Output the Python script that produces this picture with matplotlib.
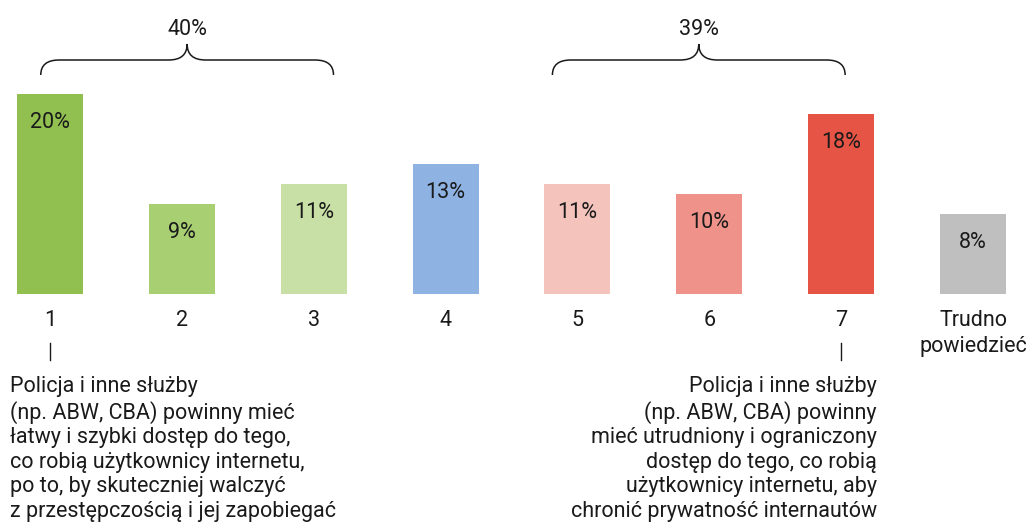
import matplotlib.pyplot as plt
from matplotlib.path import Path
from matplotlib.patches import PathPatch

plt.rcParams['font.family'] = ['Roboto', 'DejaVu Sans']

# data
categories = ['1', '2', '3', '4', '5', '6', '7', 'Trudno\npowiedzieć']
values = [20, 9, 11, 13, 11, 10, 18, 8]
colors = ['#92c050', '#a9cf73', '#c8e0a5', '#8eb3e2', '#f4c3bb', '#ef938a', '#e55444', '#bfbfbf']
group_totals = ['40%', '39%']
left_note = ('Policja i inne służby\n(np. ABW, CBA) powinny mieć\nłatwy i szybki dostęp do tego,\n'
             'co robią użytkownicy internetu,\npo to, by skuteczniej walczyć\nz przestępczością i jej zapobiegać')
right_note = ('Policja i inne służby\n(np. ABW, CBA) powinny\nmieć utrudniony i ograniczony\n'
              'dostęp do tego, co robią\nużytkownicy internetu, aby\nchronić prywatność internautów')

FS = 15.5
TXT = '#1a1a1a'

fig = plt.figure(figsize=(10.27, 5.25), dpi=100)
ax = fig.add_axes([0, 0, 1, 1])
ax.set_xlim(-0.379, 7.409)
ax.set_ylim(-23.1, 29.4)
ax.axis('off')

x = list(range(len(values)))
ax.bar(x, values, width=0.5, color=colors)

for i, v in enumerate(values):
    ax.text(i, v - 2.9, f'{v}%', ha='center', va='center', fontsize=FS, color=TXT)

for i, c in enumerate(categories):
    ax.text(i, -1.6, c, ha='center', va='top', fontsize=FS, color=TXT, linespacing=1.3)


def brace(x0, x1, label):
    yb, yh, yt = 21.9, 23.4, 25.0
    rx = 0.14
    xm = (x0 + x1) / 2
    verts = [(x0, yb), (x0, yh), (x0 + rx, yh),
             (xm - rx, yh),
             (xm, yh), (xm, yt),
             (xm, yh), (xm + rx, yh),
             (x1 - rx, yh),
             (x1, yh), (x1, yb)]
    codes = [Path.MOVETO, Path.CURVE3, Path.CURVE3,
             Path.LINETO,
             Path.CURVE3, Path.CURVE3,
             Path.CURVE3, Path.CURVE3,
             Path.LINETO,
             Path.CURVE3, Path.CURVE3]
    ax.add_patch(PathPatch(Path(verts, codes), fill=False, lw=1.1, color=TXT))
    ax.text(xm, 26.4, label, ha='center', va='center', fontsize=FS, color=TXT)


brace(-0.07, 2.15, group_totals[0])
brace(3.81, 6.03, group_totals[1])

# connector ticks to the notes
ax.plot([0, 0], [-4.9, -6.6], color=TXT, lw=1)
ax.plot([6, 6], [-4.9, -6.6], color=TXT, lw=1)

ax.text(-0.303, -8.2, left_note, ha='left', va='top', fontsize=FS, color=TXT, linespacing=1.22)
ax.text(6.27, -8.2, right_note, ha='right', va='top', fontsize=FS, color=TXT, linespacing=1.22)

fig.savefig('out.png', dpi=100)
